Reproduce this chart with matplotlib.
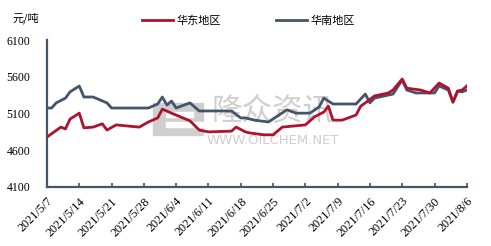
import matplotlib
matplotlib.use("Agg")
import matplotlib.pyplot as plt
import matplotlib.patches as mpatches
import pandas as pd

plt.rcParams['font.family'] = ['Noto Sans CJK SC', 'DejaVu Sans']

start = pd.Timestamp("2021-05-07")

# 华东地区 (days after 2021/5/7, price)
east_days = [0, 3, 4, 5, 7, 8, 10, 12, 13, 15, 20, 22, 24, 25, 27, 31, 33, 35, 40, 41,
             43, 44, 47, 49, 51, 56, 58, 60, 61, 62, 64, 67, 68, 69, 71, 74, 75, 77, 78,
             81, 83, 85, 87, 88, 89, 90, 91]
east_vals = [4780, 4915, 4890, 5025, 5105, 4905, 4915, 4960, 4875, 4945, 4915, 4985, 5040,
             5160, 5105, 5000, 4875, 4850, 4860, 4915, 4850, 4835, 4810, 4810, 4915, 4945,
             5055, 5120, 5200, 5010, 5010, 5080, 5200, 5245, 5340, 5380, 5420, 5570, 5445,
             5420, 5380, 5515, 5445, 5255, 5405, 5420, 5475]

# 华南地区
south_days = [0, 1, 2, 4, 5, 7, 8, 10, 13, 14, 22, 24, 25, 26, 27, 28, 31, 33, 40, 42,
              43, 45, 48, 52, 54, 57, 59, 60, 62, 67, 69, 70, 71, 75, 77, 78, 80, 84, 85,
              87, 88, 89, 90, 91]
south_vals = [5175, 5175, 5245, 5310, 5395, 5475, 5325, 5325, 5245, 5175, 5175, 5230, 5325,
              5215, 5270, 5175, 5245, 5135, 5135, 5040, 5040, 5010, 4985, 5150, 5105, 5105,
              5190, 5310, 5230, 5230, 5365, 5245, 5310, 5365, 5555, 5420, 5380, 5380, 5475,
              5420, 5255, 5405, 5395, 5420]

tick_days = list(range(0, 92, 7))

east_x = [start + pd.Timedelta(days=d) for d in east_days]
south_x = [start + pd.Timedelta(days=d) for d in south_days]
ticks = [start + pd.Timedelta(days=d) for d in tick_days]

fig = plt.figure(figsize=(4.91, 2.46), dpi=100)
ax = fig.add_axes([0.0957, 0.240, 0.855, 0.597])

# watermark (behind the lines)
wm = "#cfcfcf"
tf = fig.transFigure
lx, ly, lw, lh = 0.3116, 0.451, 0.102, 0.130
ax.add_patch(mpatches.Rectangle((lx, ly), lw, lh, transform=tf, color=wm, zorder=1, clip_on=False))
ax.add_patch(mpatches.Rectangle((lx + 0.25 * lw, ly + 0.58 * lh), 0.55 * lw, 0.14 * lh,
                                transform=tf, color="white", zorder=1, clip_on=False))
ax.add_patch(mpatches.Rectangle((lx + 0.25 * lw, ly + 0.26 * lh), 0.75 * lw, 0.14 * lh,
                                transform=tf, color="white", zorder=1, clip_on=False))
ax.text(0.556, 0.545, "隆众资讯", transform=tf, fontsize=22, color=wm, ha="center",
        va="center", zorder=1)
ax.text(0.556, 0.427, "WWW.OILCHEM.NET", transform=tf, fontsize=9.5, color=wm,
        ha="center", va="center", zorder=1, family=["DejaVu Sans"])

ax.plot(east_x, east_vals, color="#B0122C", lw=2.0, label="华东地区", zorder=3)
ax.plot(south_x, south_vals, color="#44546A", lw=2.0, label="华南地区", zorder=2)

ax.set_xlim(ticks[0], ticks[-1])
ax.set_ylim(4100, 6100)
ax.set_yticks([4100, 4600, 5100, 5600, 6100])
ax.set_xticks(ticks)
ax.set_xticklabels([f"{t.year}/{t.month}/{t.day}" for t in ticks], rotation=45,
                   ha="right", rotation_mode="anchor", fontsize=8.8,
                   family=["Liberation Serif", "DejaVu Serif"])
for lb in ax.get_yticklabels():
    lb.set_family(["Liberation Serif", "DejaVu Serif"])
    lb.set_fontsize(8.5)

ax.tick_params(axis="x", direction="in", length=3, width=1.2, color="#44546A", pad=6)
ax.tick_params(axis="y", length=0, pad=12)
for side in ["top", "right"]:
    ax.spines[side].set_visible(False)
for side in ["left", "bottom"]:
    ax.spines[side].set_color("#44546A")
    ax.spines[side].set_linewidth(1.6)

fig.text(0.025, 0.925, "元/吨", fontsize=8, ha="left", va="center")
ax.legend(loc="lower center", bbox_to_anchor=(0.48, 1.03), ncol=2, frameon=False,
          fontsize=8, handlelength=2.8, columnspacing=5, handletextpad=0.3)

fig.savefig("out.png", dpi=100)
